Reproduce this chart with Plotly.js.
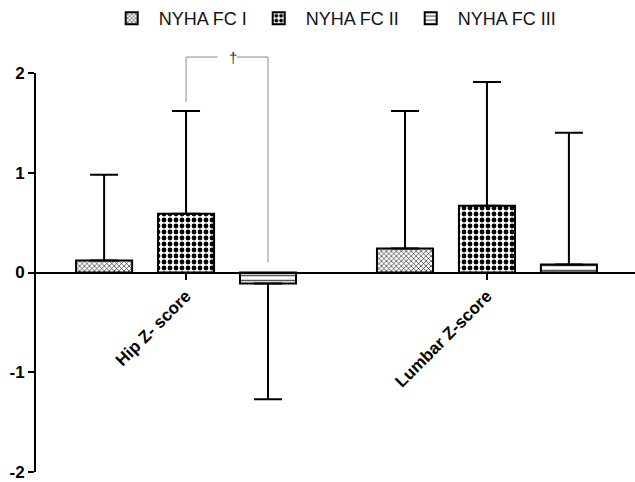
<!DOCTYPE html>
<html>
<head>
<meta charset="utf-8">
<script src="https://cdn.plot.ly/plotly-3.0.1.min.js"></script>
<style>html,body{margin:0;padding:0;background:#fff;}#chart{width:635px;height:482px;}</style>
</head>
<body>
<div id="chart"></div>
<script>
// Data
const categories = ["Hip Z- score", "Lumbar Z-score"];
const seriesNames = ["NYHA FC I", "NYHA FC II", "NYHA FC III"];
const meanFC1 = [0.12, 0.24];
const meanFC2 = [0.59, 0.67];
const meanFC3 = [-0.11, 0.08];
const sdFC1 = [0.86, 1.38];   // upper whisker tops 0.98, 1.62
const sdFC2 = [1.03, 1.24];   // upper whisker tops 1.62, 1.91
const sdFC3 = [1.16, 1.32];   // hip goes down to -1.27, lumbar up to 1.40
const yTickVals = [-2, -1, 0, 1, 2];
const yTickText = ["-2", "-1", "0", "1", "2"];

const FONT = "Arial, 'Liberation Sans', Helvetica, sans-serif";
const bargap = 0.183;
const slot = (1 - bargap) / 3;
const xRange = [-0.502, 1.492];
const yRange = [-2, 2];

function errFor(means, sds) {
  return {
    type: 'data', symmetric: false,
    array: means.map((m, i) => m >= 0 ? sds[i] : 0),
    arrayminus: means.map((m, i) => m < 0 ? sds[i] : 0),
    color: '#000', thickness: 2, width: 14
  };
}

const patterns = [
  {shape: 'x', size: 3.5, solidity: 0.3, fgcolor: '#000', bgcolor: '#fff'},
  {shape: '.', size: 6, solidity: 0.5, fgcolor: '#000', bgcolor: '#fff'},
  {shape: '-', size: 5, solidity: 0.3, fgcolor: '#555', bgcolor: '#fff'}
];
const means = [meanFC1, meanFC2, meanFC3];
const sds = [sdFC1, sdFC2, sdFC3];

const traces = seriesNames.map((n, k) => ({
  type: 'bar', name: n, x: categories, y: means[k],
  marker: {color: '#fff', line: {color: '#000', width: 2}, pattern: patterns[k]},
  error_y: errFor(means[k], sds[k]),
  cliponaxis: false, hoverinfo: 'skip'
}));

// significance bracket between FC II and FC III at Hip
function px(cat, off) { return (cat + off - xRange[0]) / (xRange[1] - xRange[0]); }
function py(v) { return (v - yRange[0]) / (yRange[1] - yRange[0]); }
const bracketTop = 2.16, leftEnd = 1.71, rightEnd = 0.10;
const xL = px(0, 0), xR = px(0, slot), xMid = (xL + xR) / 2;
const gap = 0.016;
const gray = '#8a8a8a';
const shapes = [
  {type: 'line', xref: 'paper', yref: 'paper', x0: xL, x1: xL, y0: py(leftEnd), y1: py(bracketTop), line: {color: gray, width: 1}},
  {type: 'line', xref: 'paper', yref: 'paper', x0: xR, x1: xR, y0: py(rightEnd), y1: py(bracketTop), line: {color: gray, width: 1}},
  {type: 'line', xref: 'paper', yref: 'paper', x0: xL, x1: xMid - gap, y0: py(bracketTop), y1: py(bracketTop), line: {color: gray, width: 1}},
  {type: 'line', xref: 'paper', yref: 'paper', x0: xMid + gap, x1: xR, y0: py(bracketTop), y1: py(bracketTop), line: {color: gray, width: 1}}
];

const layout = {
  width: 635, height: 482,
  margin: {l: 35, r: 0, t: 73, b: 10},
  paper_bgcolor: '#fff', plot_bgcolor: '#fff',
  barmode: 'group', bargap: bargap, bargroupgap: 0.316,
  font: {family: FONT, color: '#000'},
  showlegend: true,
  legend: {orientation: 'h', x: 0.497, xanchor: 'center', yref: 'container', y: 1.0, yanchor: 'top',
           font: {family: FONT, size: 18, color: '#111'}, itemwidth: 44, traceorder: 'normal'},
  xaxis: {
    type: 'category', range: xRange, anchor: 'free', position: py(0),
    showline: true, linewidth: 2, linecolor: '#000',
    ticks: 'outside', ticklen: 6, tickwidth: 2, tickcolor: '#000',
    tickangle: -45, tickfont: {family: FONT, size: 17, color: '#000', weight: 'bold'},
    showgrid: false, zeroline: false, fixedrange: true
  },
  yaxis: {
    range: yRange, anchor: 'free', position: 0,
    showline: true, linewidth: 2, linecolor: '#000',
    ticks: 'outside', ticklen: 6, tickwidth: 2, tickcolor: '#000',
    tickvals: yTickVals, ticktext: yTickText, ticklabeloverflow: 'allow',
    tickfont: {family: FONT, size: 17, color: '#000', weight: 'bold'},
    showgrid: false, zeroline: false, fixedrange: true
  },
  shapes: shapes,
  annotations: [
    {xref: 'paper', yref: 'paper', x: xMid, y: py(bracketTop), text: '†', showarrow: false,
     font: {family: FONT, size: 15, color: '#333'}, yanchor: 'middle'}
  ]
};

Plotly.newPlot('chart', traces, layout, {displayModeBar: false, staticPlot: true});
</script>
</body>
</html>
